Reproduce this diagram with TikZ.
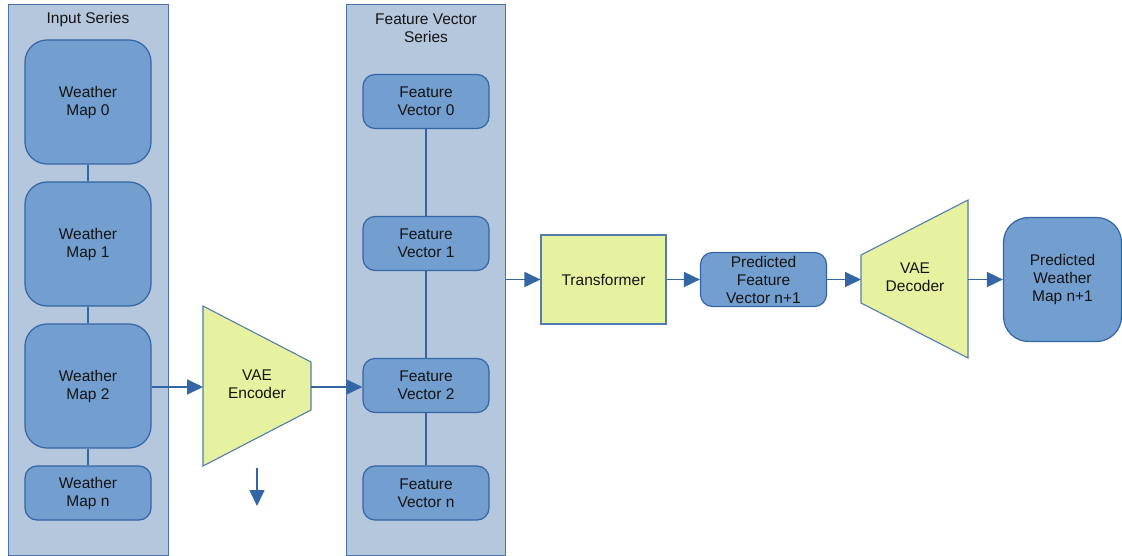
\documentclass[tikz,border=0pt]{standalone}
\usepackage{fontspec}
\setmainfont{Liberation Sans}
\usetikzlibrary{arrows.meta}
\definecolor{contfill}{HTML}{B4C7DC}
\definecolor{contline}{HTML}{4A72A8}
\definecolor{nodefill}{HTML}{729FCF}
\definecolor{nodeline}{HTML}{3465A4}
\definecolor{yel}{HTML}{E6F2A0}
\definecolor{txt}{HTML}{141414}
\begin{document}
\begin{tikzpicture}[x=1pt,y=-1pt,
  font=\fontsize{15.5}{18}\selectfont,
  container/.style={draw=contline,fill=contfill,line width=1.2pt,anchor=north west,inner sep=0pt},
  bigmap/.style={draw=nodeline,fill=nodefill,line width=1.2pt,rounded corners=22pt,minimum width=126pt,minimum height=124pt,align=center,text=txt,inner sep=0pt},
  smallbox/.style={draw=nodeline,fill=nodefill,line width=1.2pt,rounded corners=12pt,minimum width=126pt,minimum height=54pt,align=center,text=txt,inner sep=0pt},
  yelbox/.style={draw=nodeline!85,fill=yel,line width=1.1pt},
  link/.style={draw=nodeline,line width=1.2pt},
  arr/.style={draw=nodeline,line width=1.7pt,-{Triangle[length=16pt,width=15pt]}},
  lbl/.style={text=txt,align=center,inner sep=0pt}]
\useasboundingbox (0,0) rectangle (1122,556);
% containers
\node[container,minimum width=160pt,minimum height=551pt] (inC) at (8,4) {};
\node[container,minimum width=159pt,minimum height=551pt] (fvC) at (346,4) {};
\node[lbl] (inT) at (88,19) {Input Series};
\node[lbl] (fvT) at (426,28.5) {Feature Vector\\Series};
% weather maps
\node[bigmap] (m0) at (88,102) {Weather\\Map 0};
\node[bigmap] (m1) at (88,244) {Weather\\Map 1};
\node[bigmap] (m2) at (88,386) {Weather\\Map 2};
\node[smallbox] (mn) at (88,493) {Weather\\Map n};
\draw[link] (m0.south) -- (m1.north);
\draw[link] (m1.south) -- (m2.north);
\draw[link] (m2.south) -- (mn.north);
% feature vectors
\node[smallbox] (f0) at (426,101.5) {Feature\\Vector 0};
\node[smallbox] (f1) at (426,243.5) {Feature\\Vector 1};
\node[smallbox] (f2) at (426,385.5) {Feature\\Vector 2};
\node[smallbox] (fn) at (426,493) {Feature\\Vector n};
\draw[link] (f0.south) -- (f1.north);
\draw[link] (f1.south) -- (f2.north);
\draw[link] (f2.south) -- (fn.north);
% encoder
\coordinate (e1) at (203,306);
\coordinate (e2) at (311,362);
\coordinate (e3) at (311,410);
\coordinate (e4) at (203,466);
\coordinate (eL) at (203,387);
\coordinate (eR) at (311,387);
\draw[yelbox] (e1) -- (e2) -- (e3) -- (e4) -- cycle;
\node[lbl] (enc) at (257,384) {VAE\\Encoder};
\coordinate (d1) at (257,468);
\coordinate (d2) at (257,506);
\draw[arr] (d1) -- (d2);
\draw[arr] (m2.east |- eL) -- (eL);
\draw[arr] (eR) -- (f2.west |- eR);
% transformer
\node[yelbox,minimum width=125pt,minimum height=89pt,text=txt] (tr) at (603.5,279.5) {Transformer};
\draw[arr] (fvC.east |- tr.west) -- (tr.west);
\node[smallbox] (pf) at (763.5,279.5) {Predicted\\Feature\\Vector n+1};
\draw[arr] (tr.east) -- (pf.west);
% decoder
\coordinate (c1) at (861,255);
\coordinate (c2) at (968,200);
\coordinate (c3) at (968,358);
\coordinate (c4) at (861,303);
\coordinate (cL) at (861,279.5);
\coordinate (cR) at (968,279.5);
\draw[yelbox] (c1) -- (c2) -- (c3) -- (c4) -- cycle;
\node[lbl] (dec) at (915,277) {VAE\\Decoder};
\draw[arr] (pf.east) -- (cL);
\node[bigmap,minimum width=118pt,minimum height=124pt,rounded corners=25pt] (pw) at (1062.5,279.5) {Predicted\\Weather\\Map n+1};
\draw[arr] (cR) -- (pw.west);
\end{tikzpicture}
\end{document}
